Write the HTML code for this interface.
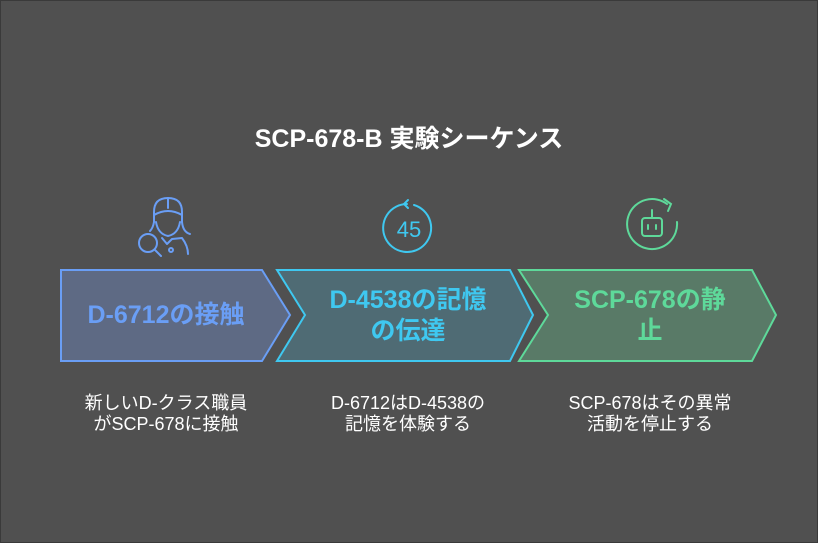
<!DOCTYPE html>
<html><head><meta charset="utf-8"><style>
body{margin:0;width:818px;height:543px;background:#505050;overflow:hidden;font-family:"Liberation Sans","Noto Sans CJK JP",sans-serif}
.t{position:absolute;text-align:center;font-weight:bold}
.d{position:absolute;text-align:center;color:#fff;font-size:18px;line-height:21px}
</style></head><body>
<div style="position:absolute;left:0;top:0;width:816px;height:541px;border:1px solid #3a3a3a"></div>
<div class="t" style="left:0;width:818px;top:119px;font-size:25px;color:#fff">SCP-678-B 実験シーケンス</div>
<svg width="818" height="543" style="position:absolute;left:0;top:0">
<polygon points="61,270 262,270 290,315 262,361 61,361" fill="#5e6a84" stroke="#6a9ef5" stroke-width="2"/>
<polygon points="277,270 510,270 533,315 510,361 277,361 305,315" fill="#4f6b74" stroke="#3fc8f0" stroke-width="2"/>
<polygon points="519,270 752,270 776,315 752,361 519,361 548,315" fill="#597a67" stroke="#5ed99a" stroke-width="2"/>
<g fill="none" stroke="#6a9ef5" stroke-width="2" stroke-linecap="round" stroke-linejoin="round">
<path d="M154,222 v-10 q0,-14 14,-14 q14,0 14,14 v10"/>
<path d="M154,215 q14,-8 28,0 M168,198 v10"/>
<path d="M156,222 q2,12 12,14 q10,-2 12,-14"/>
<path d="M182,222 q1,10 8,12 M154,222 q-1,6 -4,9"/>
<circle cx="148" cy="243" r="9"/><path d="M155,250 l6,6"/>
<path d="M162,238 l5,6 l5,-5 l10,-1 q6,8 6,16"/><circle cx="171" cy="250" r="2"/>
</g>
<g fill="none" stroke="#3fc8f0" stroke-width="2" stroke-linecap="round">
<path d="M414,205 a24,24 0 1 1 -7,-1"/><path d="M408,200 l-4,4 l4,4"/>
</g>
<text x="409" y="237" text-anchor="middle" font-family="Liberation Sans" font-size="22" fill="#3fc8f0">45</text>
<g fill="none" stroke="#5ed99a" stroke-width="2" stroke-linecap="round">
<path d="M677,222 a25,25 0 1 1 -10,-18"/><path d="M664,199 l7,5 l-3,7"/>
<rect x="642" y="218" width="20" height="18" rx="3"/><path d="M652,218 v-8 M648,225 v4 M656,225 v4"/>
</g>
</svg>
<div class="t" style="left:56px;width:220px;top:300px;font-size:25px;line-height:30px;color:#6a9ef5">D-6712の接触</div>
<div class="t" style="left:298px;width:220px;top:285px;font-size:25px;line-height:31px;color:#3fc8f0">D-4538の記憶<br>の伝達</div>
<div class="t" style="left:540px;width:220px;top:285px;font-size:25px;line-height:31px;color:#5ed99a">SCP-678の静<br>止</div>
<div class="d" style="left:46px;width:240px;top:393px">新しいD-クラス職員<br>がSCP-678に接触</div>
<div class="d" style="left:288px;width:240px;top:393px">D-6712はD-4538の<br>記憶を体験する</div>
<div class="d" style="left:530px;width:240px;top:393px">SCP-678はその異常<br>活動を停止する</div>
</body></html>
